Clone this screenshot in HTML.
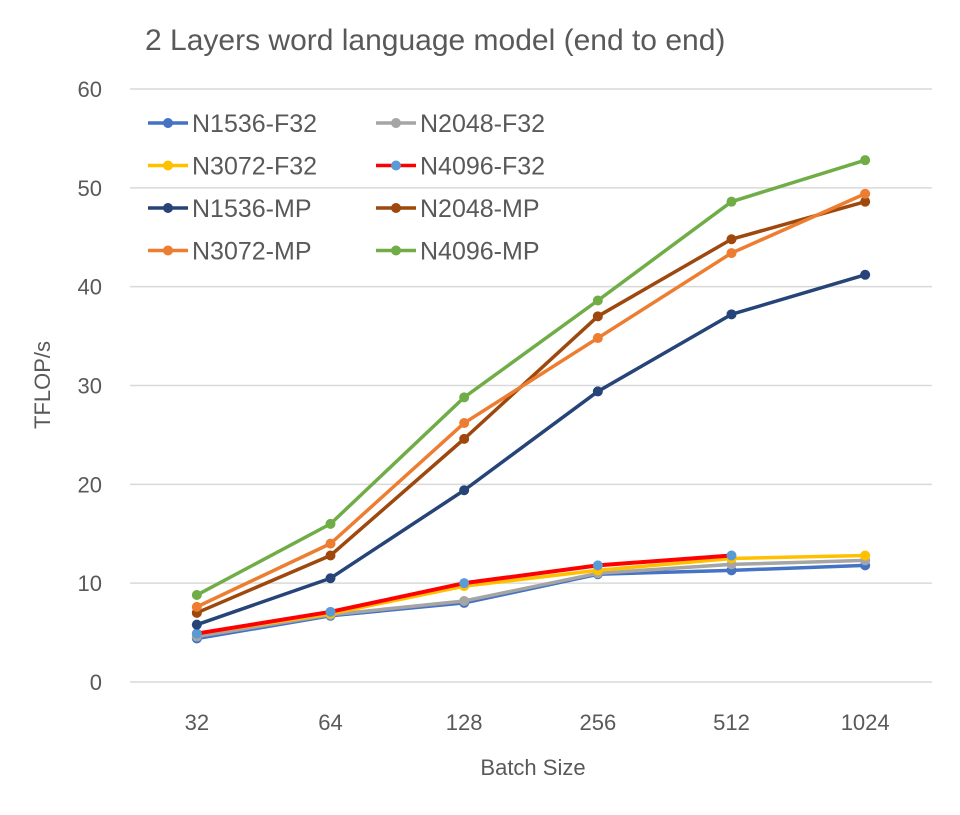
<!DOCTYPE html>
<html><head><meta charset="utf-8"><style>
body{margin:0;background:#fff;}
svg text{font-family:"Liberation Sans",sans-serif;fill:#595959;}
</style></head><body>
<svg id="chart" width="960" height="810" xmlns="http://www.w3.org/2000/svg">
<rect width="960" height="810" fill="#fff"/>
<text x="145" y="50" font-size="30">2 Layers word language model (end to end)</text>
<g id="grid"></g><g id="series"></g><g id="legend"></g>
<text transform="translate(50,385) rotate(-90)" text-anchor="middle" font-size="22">TFLOP/s</text>
<text x="533" y="775" text-anchor="middle" font-size="22">Batch Size</text>
</svg>
<script>
const categories=["32","64","128","256","512","1024"];
const yTicks=[0,10,20,30,40,50,60];
const seriesNames=["N1536-F32","N2048-F32","N3072-F32","N4096-F32","N1536-MP","N2048-MP","N3072-MP","N4096-MP"];
const n1536f=[4.4,6.7,8.0,10.9,11.3,11.8];
const n2048f=[4.6,6.8,8.2,11.0,11.9,12.3];
const n3072f=[4.9,6.9,9.7,11.3,12.5,12.8];
const n4096f=[4.9,7.1,10.0,11.8,12.8];
const n1536m=[5.8,10.5,19.4,29.4,37.2,41.2];
const n2048m=[7.0,12.8,24.6,37.0,44.8,48.6];
const n3072m=[7.6,14.0,26.2,34.8,43.4,49.4];
const n4096m=[8.8,16.0,28.8,38.6,48.6,52.8];
const seriesValues=[n1536f,n2048f,n3072f,n4096f,n1536m,n2048m,n3072m,n4096m];
const lineColors=["#4472c4","#a5a5a5","#ffc000","#ff0000","#264478","#9e480e","#ed7d31","#70ad47"];
const markerColors=["#4472c4","#a5a5a5","#ffc000","#5b9bd5","#264478","#9e480e","#ed7d31","#70ad47"];
const NS="http://www.w3.org/2000/svg";
const L=130,R=932,Y0=682,Y60=89;
const xs=i=>L+(R-L)/categories.length*(i+0.5);
const ys=v=>Y0-(Y0-Y60)*v/60;
function mk(t,a,p){const e=document.createElementNS(NS,t);for(const k in a)e.setAttribute(k,a[k]);p.appendChild(e);return e;}
const grid=document.getElementById('grid');
yTicks.forEach(v=>{
 const l=mk('line',{x1:L,x2:R,y1:ys(v),y2:ys(v),stroke:'#d9d9d9','stroke-width':1.5},grid);
 
 
 const t=mk('text',{x:102,y:ys(v)+8,'text-anchor':'end','font-size':22},grid);t.textContent=v;
 
 
});
categories.forEach((c,i)=>{
 const t=mk('text',{x:xs(i),y:730,'text-anchor':'middle','font-size':22},grid);t.textContent=c;
 
 
});
const sg=document.getElementById('series');
seriesValues.forEach((vals,s)=>{
 const g=mk('g',{},sg);
 
 
 mk('polyline',{points:vals.map((v,i)=>xs(i)+','+ys(v)).join(' '),fill:'none',stroke:lineColors[s],'stroke-width':s==3?4:3.5,'stroke-linejoin':'round'},g);
 vals.forEach((v,i)=>{const c=mk('circle',{cx:xs(i),cy:ys(v),r:5,fill:markerColors[s]},g);
  
  });
});
const lg=document.getElementById('legend');
seriesNames.forEach((n,s)=>{
 const col=s%2,row=Math.floor(s/2);
 const x=148+col*228,y=123+row*42.5;
 const g=mk('g',{},lg);
 
 
 mk('line',{x1:x,x2:x+40,y1:y,y2:y,stroke:lineColors[s],'stroke-width':3.5},g);
 mk('circle',{cx:x+20,cy:y,r:5,fill:markerColors[s]},g);
 const t=mk('text',{x:x+44,y:y+9,'font-size':25},g);t.textContent=n;
});
</script>
</body></html>
